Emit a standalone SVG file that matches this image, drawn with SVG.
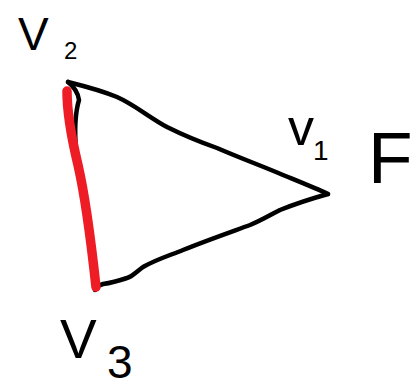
<svg xmlns="http://www.w3.org/2000/svg" width="419" height="390" viewBox="0 0 419 390">
<style>
.ink{fill:none;stroke:#000;stroke-width:4.5;stroke-linecap:round;stroke-linejoin:round}
.red{fill:none;stroke:#ee1c25;stroke-width:9.5;stroke-linecap:round}
.lbl{font-family:"Liberation Sans","DejaVu Sans",sans-serif;fill:#000}
</style>
<rect width="419" height="390" fill="#fff"/>
<g id="connectors">
<path class="ink" d="M68,82 C80,85 100,90 117,97 C135,105 150,118 167,127 C185,136 200,142 217,148 C240,158 262,166 283,175 C300,182 315,188 328,194"/>
<path class="ink" d="M328,194 C310,199 295,204 280,210 C268,216 262,220 250,225 C228,233 205,241 183,250 C168,256 155,260 143,267 C135,273 132,277 127,278 C118,281 110,283 103,284 C100,285 98,286 97,287"/>
<path class="ink" d="M68,82 C73,86 78,92 79,100 C76,110 74,125 76,150 C84,195 91,250 95,290"/>
<path class="red" d="M67,91 C67,115 72,140 78,165 C86,200 92,250 96,287"/>
</g>
<g id="V2">
<text class="lbl" x="18" y="50" font-size="46">V</text>
<text class="lbl" x="64" y="59" font-size="24">2</text>
</g>
<g id="V1">
<text class="lbl" x="288" y="145" font-size="52">v</text>
<text class="lbl" x="313" y="160" font-size="28">1</text>
</g>
<g id="F">
<text class="lbl" x="368" y="183" font-size="73">F</text>
</g>
<g id="V3">
<text class="lbl" x="60" y="358" font-size="55">V</text>
<text class="lbl" x="107" y="378" font-size="46">3</text>
</g>
</svg>
